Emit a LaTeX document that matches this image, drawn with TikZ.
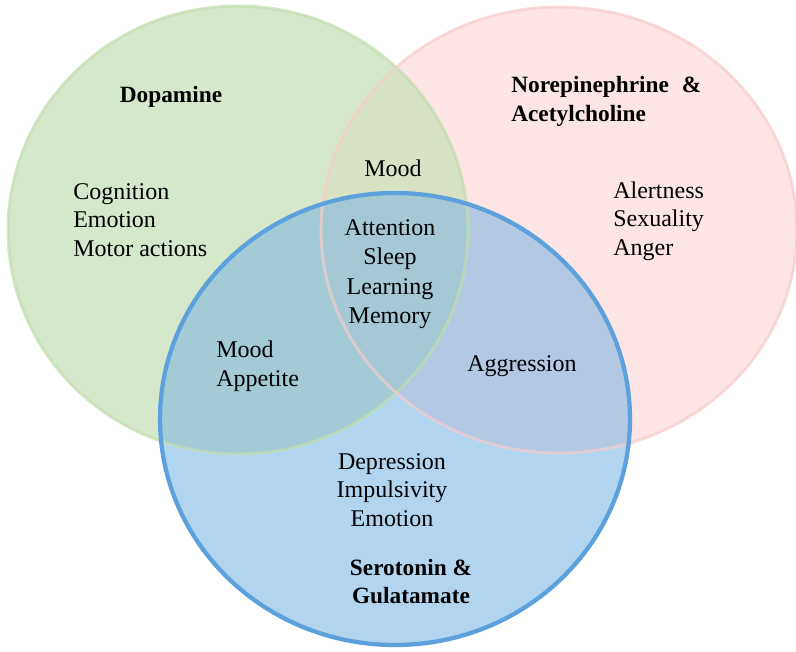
\documentclass[tikz,border=0pt]{standalone}
\usepackage{fontspec}
\setmainfont{Liberation Serif}
\definecolor{gfill}{HTML}{D5E8CB}
\definecolor{rfill}{HTML}{FDE5E5}
\definecolor{bfill}{HTML}{B2D5EF}
\definecolor{grfill}{HTML}{D8E3C6}
\definecolor{gbfill}{HTML}{A2CBD6}
\definecolor{rbfill}{HTML}{B2C8E3}
\definecolor{grbfill}{HTML}{A4C8D4}
\definecolor{gline}{HTML}{C2DDAF}
\definecolor{rline}{HTML}{F6CCCA}
\definecolor{bline}{HTML}{5CA0DC}
\tikzset{
  lbl/.style={inner sep=0pt, font=\fontsize{18}{21.5}\selectfont},
  ttl/.style={inner sep=0pt, font=\fontsize{17.5}{21.5}\selectfont\bfseries},
}
\begin{document}
\begin{tikzpicture}[x=0.75pt,y=-0.75pt]
\useasboundingbox (0,0) rectangle (796,651);
\def\Gpath{(238,230) ellipse [x radius=172.5pt, y radius=168pt]}
\def\Rpath{(559,230) ellipse [x radius=178.5pt, y radius=167.25pt]}
\def\Bpath{(395,419) ellipse [x radius=176.25pt, y radius=169.5pt]}
% fills
\fill[gfill] \Gpath;
\fill[rfill] \Rpath;
\begin{scope}
  \clip \Gpath;
  \fill[grfill] \Rpath;
\end{scope}
\fill[bfill] \Bpath;
\begin{scope}
  \clip \Bpath;
  \fill[gbfill] \Gpath;
  \fill[rbfill] \Rpath;
  \clip \Gpath;
  \fill[grbfill] \Rpath;
\end{scope}
% borders
\draw[gline, line width=2.2pt, opacity=0.7] \Gpath;
\draw[rline, line width=2.2pt, opacity=0.7] \Rpath;
\draw[bline, line width=3.2pt] \Bpath;
% labels
\node[ttl] (dopa) at (171,97) {Dopamine};
\node[ttl, anchor=west, align=left] (nore) at (511,101.5) {Norepinephrine\hspace{0.55em}\&\\Acetylcholine};
\node[ttl, align=center] (sero) at (411,581.5) {Serotonin \&\\Gulatamate};
\node[lbl, anchor=west, align=left] (dlist) at (73,220) {Cognition\\Emotion\\Motor actions};
\node[lbl] (mood) at (393,168) {Mood};
\node[inner sep=0pt, font=\fontsize{18}{22}\selectfont, align=center] (center) at (390,274) {Attention\\Sleep\\Learning\\Memory};
\node[lbl, anchor=west, align=left] (gb) at (216,366.5) {Mood\\Appetite};
\node[lbl] (aggr) at (522,366) {Aggression};
\node[lbl, anchor=west, align=left] (nlist) at (613,221) {Alertness\\Sexuality\\Anger};
\node[lbl, align=center] (slist) at (392,490) {Depression\\Impulsivity\\Emotion};
\end{tikzpicture}
\end{document}
